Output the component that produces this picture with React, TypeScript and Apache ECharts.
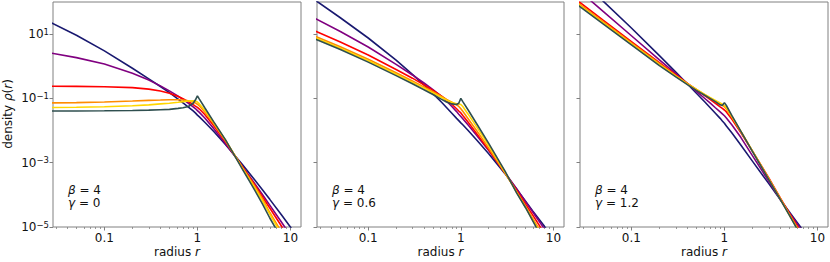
import React, { useEffect, useRef } from 'react';
import * as echarts from 'echarts';

// radius samples (shared by all curves)
const radius = [0.027, 0.05, 0.1, 0.2, 0.3, 0.4, 0.5, 0.62, 0.7, 0.8, 0.9, 0.95, 1.0, 1.05, 1.2, 1.5, 2, 3, 4, 5, 6, 8, 10, 14];

// log10 of density — panel 1 (gamma = 0)
const g0Navy = [1.35, 0.965, 0.48, -0.06, -0.39, -0.63, -0.82, -1.02, -1.14, -1.27, -1.39, -1.45, -1.52, -1.575, -1.74, -2.03, -2.43, -3.03, -3.48, -3.84, -4.14, -4.62, -5.0, -5.58];
const g0Purple = [0.41, 0.27, 0.07, -0.22, -0.43, -0.61, -0.765, -0.93, -1.03, -1.15, -1.26, -1.315, -1.38, -1.435, -1.61, -1.94, -2.4, -3.09, -3.59, -3.99, -4.32, -4.845, -5.26, -5.89];
const g0Red = [-0.62, -0.625, -0.635, -0.665, -0.71, -0.77, -0.84, -0.94, -1.01, -1.1, -1.19, -1.24, -1.28, -1.33, -1.5, -1.85, -2.34, -3.1, -3.63, -4.06, -4.41, -4.97, -5.41, -6.08];
const g0Orange = [-1.14, -1.13, -1.11, -1.08, -1.06, -1.05, -1.04, -1.04, -1.05, -1.07, -1.11, -1.14, -1.18, -1.23, -1.42, -1.79, -2.31, -3.12, -3.67, -4.12, -4.55, -5.15, -5.62, -6.33];
const g0Yellow = [-1.28, -1.275, -1.26, -1.23, -1.2, -1.17, -1.15, -1.12, -1.1, -1.08, -1.07, -1.08, -1.11, -1.17, -1.37, -1.75, -2.29, -3.14, -3.72, -4.19, -4.6, -5.23, -5.72, -6.42];
const g0Green = [-1.39, -1.39, -1.385, -1.375, -1.365, -1.35, -1.34, -1.31, -1.29, -1.25, -1.15, -1.05, -0.92, -1.02, -1.29, -1.73, -2.28, -3.17, -3.78, -4.28, -4.72, -5.35, -5.85, -6.58];

// panel 2 (gamma = 0.6)
const g06Navy = [2.05, 1.51, 0.88, 0.19, -0.25, -0.58, -0.85, -1.12, -1.28, -1.46, -1.62, -1.69, -1.76, -1.82, -2.0, -2.31, -2.72, -3.34, -3.82, -4.2, -4.51, -4.98, -5.38, -5.96];
const g06Purple = [1.48, 1.08, 0.6, 0.06, -0.27, -0.52, -0.73, -0.94, -1.08, -1.25, -1.41, -1.49, -1.56, -1.63, -1.83, -2.17, -2.62, -3.31, -3.81, -4.21, -4.54, -5.06, -5.49, -6.12];
const g06Red = [1.09, 0.755, 0.35, -0.1, -0.37, -0.58, -0.75, -0.93, -1.04, -1.18, -1.32, -1.39, -1.45, -1.53, -1.74, -2.11, -2.6, -3.32, -3.86, -4.29, -4.64, -5.2, -5.64, -6.3];
const g06Orange = [0.93, 0.61, 0.22, -0.2, -0.455, -0.64, -0.79, -0.94, -1.03, -1.12, -1.2, -1.25, -1.32, -1.4, -1.63, -2.02, -2.545, -3.32, -3.9, -4.36, -4.74, -5.34, -5.8, -6.5];
const g06Yellow = [0.88, 0.56, 0.17, -0.25, -0.5, -0.68, -0.83, -0.97, -1.05, -1.13, -1.17, -1.17, -1.19, -1.25, -1.49, -1.91, -2.46, -3.29, -3.92, -4.39, -4.79, -5.42, -5.9, -6.6];
const g06Green = [0.84, 0.52, 0.13, -0.29, -0.545, -0.73, -0.88, -1.03, -1.11, -1.17, -1.19, -1.15, -1.0, -1.1, -1.36, -1.81, -2.4, -3.26, -3.94, -4.4, -4.82, -5.48, -6.0, -6.75];

// panel 3 (gamma = 1.2)
const g12Navy = [2.75, 2.02, 1.19, 0.33, -0.18, -0.55, -0.84, -1.12, -1.28, -1.46, -1.62, -1.7, -1.77, -1.86, -2.07, -2.45, -2.95, -3.65, -4.15, -4.53, -4.84, -5.33, -5.71, -6.28];
const g12Purple = [2.37, 1.7, 0.95, 0.2, -0.23, -0.54, -0.78, -1.01, -1.14, -1.29, -1.42, -1.48, -1.54, -1.61, -1.82, -2.21, -2.78, -3.58, -4.15, -4.56, -4.88, -5.4, -5.8, -6.43];
const g12Red = [2.02, 1.43, 0.77, 0.11, -0.27, -0.53, -0.73, -0.92, -1.03, -1.15, -1.26, -1.31, -1.36, -1.42, -1.64, -2.06, -2.64, -3.47, -4.1, -4.58, -4.95, -5.55, -6.0, -6.7];
const g12Orange = [1.96, 1.38, 0.73, 0.08, -0.29, -0.54, -0.72, -0.89, -0.99, -1.09, -1.18, -1.21, -1.26, -1.33, -1.58, -2.03, -2.63, -3.49, -4.12, -4.61, -5.0, -5.62, -6.1, -6.8];
const g12Yellow = [1.92, 1.345, 0.7, 0.05, -0.31, -0.55, -0.72, -0.88, -0.97, -1.06, -1.14, -1.18, -1.22, -1.29, -1.55, -2.02, -2.63, -3.51, -4.14, -4.63, -5.03, -5.65, -6.13, -6.85];
const g12Green = [1.89, 1.31, 0.665, 0.02, -0.33, -0.57, -0.75, -0.91, -1.0, -1.1, -1.2, -1.22, -1.13, -1.22, -1.53, -2.02, -2.645, -3.525, -4.15, -4.64, -5.04, -5.66, -6.15, -6.88];

const curveColors = ['#191970', '#800080', '#ff0000', '#ff8c00', '#ffd700', '#2f4f4f'];
const panelCurves = [
  [g0Navy, g0Purple, g0Red, g0Orange, g0Yellow, g0Green],
  [g06Navy, g06Purple, g06Red, g06Orange, g06Yellow, g06Green],
  [g12Navy, g12Purple, g12Red, g12Orange, g12Yellow, g12Green],
];
const betaLabels = ['4', '4', '4'];
const gammaLabels = ['0', '0.6', '1.2'];

const xRange = [0.028, 13];
const yRangeExp = [-5, 2];
const xMajorTicks = [0.1, 1, 10];
const xMajorLabels = ['0.1', '1', '10'];
const yMajorExp = [-5, -3, -1, 1];

const panelsLayout = [
  { left: 53, width: 248 },
  { left: 317, width: 247 },
  { left: 580, width: 248 },
];
const gridTop = 2;
const gridHeight = 225;

const FONT = '"DejaVu Sans", sans-serif';
const SPINE = '#808080';
const TEXT = '#111';

export default function App() {
  const ref = useRef<HTMLDivElement>(null);
  useEffect(() => {
    if (!ref.current) return;
    const chart = echarts.init(ref.current, undefined, { renderer: 'svg' });
    const xMin = Math.log10(xRange[0]);
    const xMax = Math.log10(xRange[1]);
    const minor: number[] = [];
    for (let k = -2; k <= 1; k++) {
      for (let m = 2; m <= 9; m++) {
        const v = Math.log10(m * Math.pow(10, k));
        if (v > xMin && v < xMax) minor.push(v);
      }
    }
    const majorLog = xMajorTicks.map((t) => Math.log10(t));

    const grid: any[] = [];
    const xAxis: any[] = [];
    const yAxis: any[] = [];
    const series: any[] = [];
    const graphic: any[] = [];

    panelsLayout.forEach((p, i) => {
      grid.push({
        left: p.left, top: gridTop, width: p.width, height: gridHeight,
        show: true, borderColor: SPINE, borderWidth: 1, backgroundColor: 'transparent',
        containLabel: false,
      });
      xAxis.push({
        type: 'value', gridIndex: i, min: xMin, max: xMax, position: 'bottom',
        axisLine: { show: false, onZero: false },
        splitLine: { show: false },
        axisTick: { show: true, customValues: majorLog, length: 3.5, lineStyle: { color: SPINE, width: 1 } },
        axisLabel: {
          show: true, customValues: majorLog, margin: 5,
          color: TEXT, fontSize: 12, fontFamily: FONT,
          formatter: (v: number) => {
            const idx = majorLog.findIndex((m) => Math.abs(m - v) < 1e-6);
            return idx >= 0 ? xMajorLabels[idx] : '';
          },
        },
      });
      xAxis.push({
        type: 'value', gridIndex: i, min: xMin, max: xMax, position: 'bottom',
        axisLine: { show: false, onZero: false },
        splitLine: { show: false },
        axisTick: { show: true, customValues: minor, length: 2, lineStyle: { color: SPINE, width: 0.8 } },
        axisLabel: { show: false },
      });
      yAxis.push({
        type: 'value', gridIndex: i, min: yRangeExp[0], max: yRangeExp[1], position: 'left',
        axisLine: { show: false, onZero: false },
        splitLine: { show: false },
        axisTick: { show: true, customValues: yMajorExp, length: 3.5, lineStyle: { color: SPINE, width: 1 } },
        axisLabel: {
          show: i === 0, customValues: yMajorExp, margin: 4,
          color: TEXT, fontFamily: FONT,
          formatter: (v: number) => `{b|10}{s|${v < 0 ? '\u2212' : ''}${Math.abs(Math.round(v))}}`,
          rich: {
            b: { fontSize: 12, fontFamily: FONT, color: TEXT, lineHeight: 14 },
            s: { fontSize: 8.5, fontFamily: FONT, color: TEXT, verticalAlign: 'top', lineHeight: 9 },
          },
        },
      });
      panelCurves[i].forEach((vals, c) => {
        series.push({
          type: 'line',
          xAxisIndex: i * 2,
          yAxisIndex: i,
          data: radius.map((r, k) => [Math.log10(r), vals[k]]),
          showSymbol: false,
          symbol: 'none',
          clip: true,
          silent: true,
          lineStyle: { color: curveColors[c], width: 1.6 },
          z: 2 + c,
        });
      });
      graphic.push({
        type: 'text', x: p.left + 15, y: 190,
        style: {
          text: `{i|\u03b2} = ${betaLabels[i]}`,
          rich: { i: { fontStyle: 'italic', fontSize: 12, fontFamily: FONT, fill: TEXT } },
          fontSize: 12, fontFamily: FONT, fill: TEXT,
          textAlign: 'left', textVerticalAlign: 'middle', align: 'left', verticalAlign: 'middle',
        },
      });
      graphic.push({
        type: 'text', x: p.left + 15, y: 203,
        style: {
          text: `{i|\u03b3} = ${gammaLabels[i]}`,
          rich: { i: { fontStyle: 'italic', fontSize: 12, fontFamily: FONT, fill: TEXT } },
          fontSize: 12, fontFamily: FONT, fill: TEXT,
          textAlign: 'left', textVerticalAlign: 'middle', align: 'left', verticalAlign: 'middle',
        },
      });
      graphic.push({
        type: 'text', x: p.left + p.width / 2, y: 252,
        style: {
          text: 'radius {i|r}',
          rich: { i: { fontStyle: 'italic', fontSize: 12, fontFamily: FONT, fill: TEXT } },
          fontSize: 12, fontFamily: FONT, fill: TEXT,
          textAlign: 'center', textVerticalAlign: 'middle', align: 'center', verticalAlign: 'middle',
        },
      });
    });

    graphic.push({
      type: 'text', x: 8, y: 114, rotation: Math.PI / 2,
      style: {
        text: 'density {i|\u03c1}({i|r})',
        rich: { i: { fontStyle: 'italic', fontSize: 12, fontFamily: FONT, fill: TEXT } },
        fontSize: 12, fontFamily: FONT, fill: TEXT,
        textAlign: 'center', textVerticalAlign: 'middle', align: 'center', verticalAlign: 'middle',
      },
    });

    chart.setOption({
      animation: false,
      backgroundColor: '#ffffff',
      grid, xAxis, yAxis, series, graphic,
    });
    return () => chart.dispose();
  }, []);
  return <div ref={ref} style={{ position: 'fixed', left: 0, top: 0, width: 830, height: 262 }} />;
}
